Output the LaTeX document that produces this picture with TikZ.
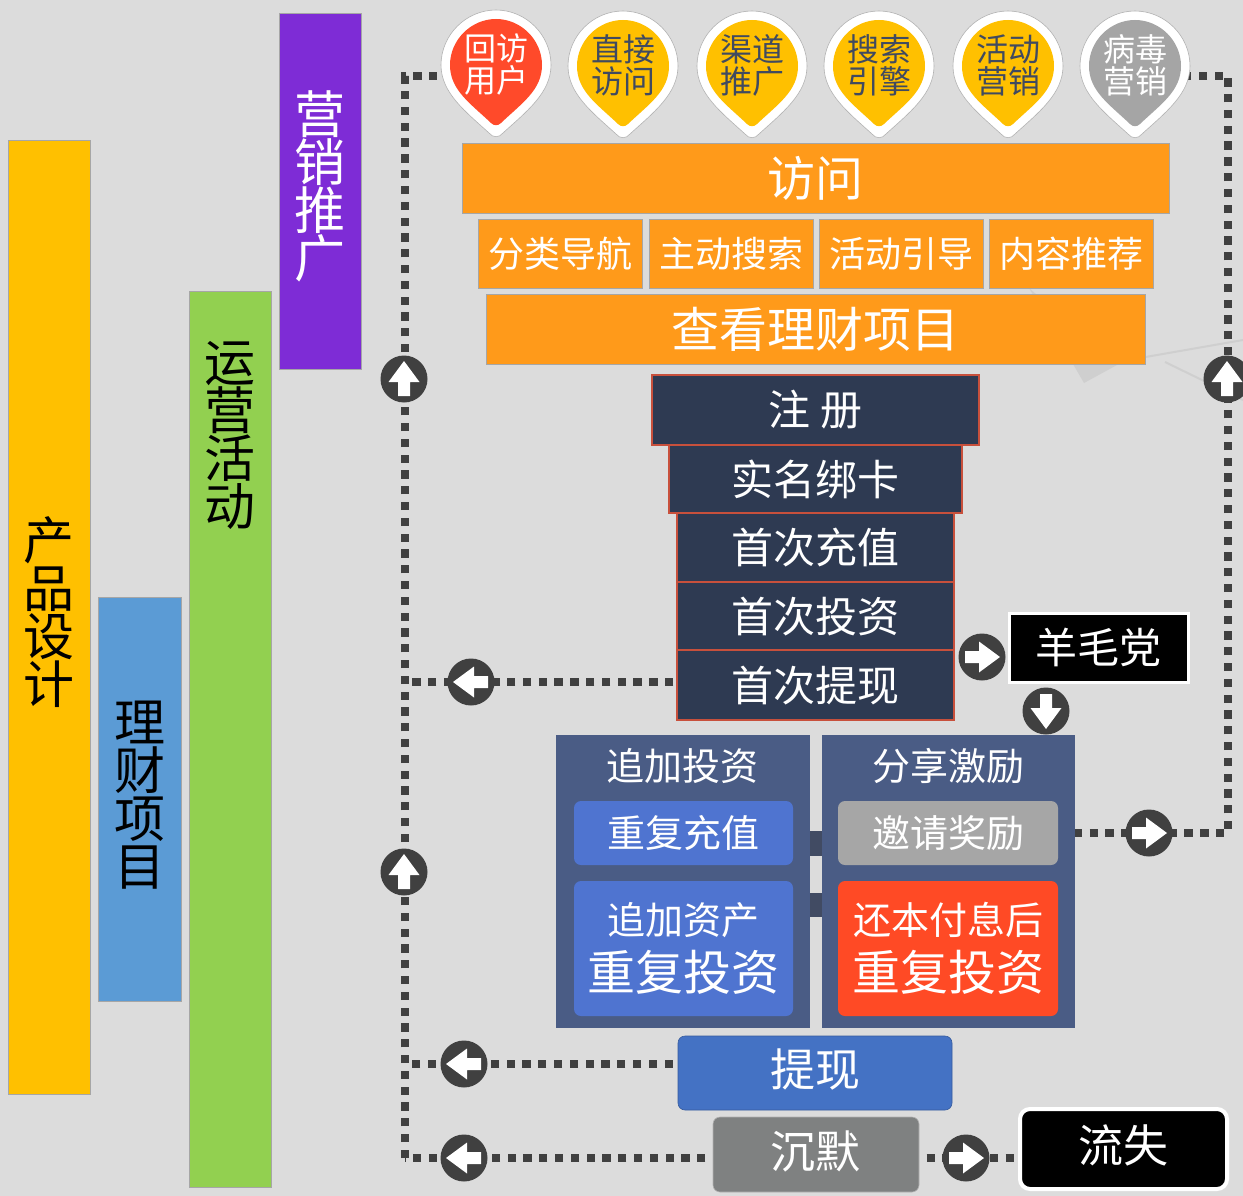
\documentclass[tikz,border=0pt]{standalone}
\usepackage{fontspec}
\setmainfont{Noto Sans CJK SC}
\usetikzlibrary{calc}
\pgfdeclarelayer{back}
\pgfsetlayers{back,main}
\definecolor{bgc}{HTML}{DCDCDC}
\definecolor{faint}{HTML}{CFCFCF}
\definecolor{orangec}{HTML}{FF9A1A}
\definecolor{darkc}{HTML}{2E3A52}
\definecolor{redline}{HTML}{C8503C}
\definecolor{panelc}{HTML}{4A5C85}
\definecolor{linkc}{HTML}{414B63}
\definecolor{bluein}{HTML}{4F74D0}
\definecolor{redin}{HTML}{FF4A25}
\definecolor{grayin}{HTML}{A6A6A6}
\definecolor{pinred}{HTML}{FF4A2A}
\definecolor{pinyel}{HTML}{FFC000}
\definecolor{pingray}{HTML}{A5A5A5}
\definecolor{barblue}{HTML}{5B9BD5}
\definecolor{bargreen}{HTML}{92D050}
\definecolor{barpurple}{HTML}{7E2CD6}
\definecolor{dotc}{HTML}{404040}
\definecolor{pintext}{HTML}{404A60}
\definecolor{cashc}{HTML}{4472C4}
\definecolor{silc}{HTML}{7F8181}
\newcommand\fs[1]{\fontsize{#1}{#1}\selectfont}
\tikzset{
  x=1pt,y=-1pt,
  boxbase/.style={inner sep=0pt,outer sep=0pt,align=center,text=white},
  barbox/.style={boxbase,draw=black!35,line width=.8pt},
  vtext/.style={inner sep=0pt,align=center,font=\fontsize{51}{48}\selectfont},
  orangebox/.style={boxbase,fill=orangec,draw=black!35,line width=.8pt},
  darkbox/.style={boxbase,fill=darkc,draw=redline,line width=1.2pt},
  panelbox/.style={boxbase,fill=panelc},
  innerbox/.style={boxbase,rounded corners=7pt},
  dotline/.style={draw=dotc,line width=7.5pt,dash pattern=on 8.3pt off 7.5pt},
  arrowdisc/.style={circle,fill=dotc,minimum size=47pt,inner sep=0pt,outer sep=0pt},
  pintxt/.style={inner sep=0pt,align=center,font=\fontsize{32}{32}\selectfont},
  paneltitle/.style={inner sep=0pt,text=white,font=\fs{38}},
  boxlabel/.style={inner sep=0pt,text=white},
}
% name x1 y1 x2 y2 style text
\newcommand\bx[7]{\node[#6,minimum width={(#4-#2)*1pt},minimum height={(#5-#3)*1pt}] (#1) at ({(#2+#4)/2},{(#3+#5)/2}) {#7};}
% name cx cy rotation
\newcommand\arrowmark[4]{%
  \node[arrowdisc] (#1) at (#2,#3) {};
  \fill[white,shift={(#2,#3)},rotate=#4] (0,-18) -- (15.5,3) -- (6,3) -- (6,17) -- (-6,17) -- (-6,3) -- (-15.5,3) -- cycle;
}
% name cx cy fill textcolor text
\newcommand\pin[6]{%
  \begin{scope}[shift={(#2,#3)}]
  \fill[white,draw=black!30,line width=.6pt] (-55,0) .. controls (-55,-30) and (-30,-55) .. (0,-55) .. controls (30,-55) and (55,-30) .. (55,0) .. controls (55,28) and (30,47) .. (7,68) .. controls (3,73) and (-3,73) .. (-7,68) .. controls (-30,47) and (-55,28) .. (-55,0) -- cycle;
  \fill[#4] (-46,0) .. controls (-46,-25) and (-25,-46) .. (0,-46) .. controls (25,-46) and (46,-25) .. (46,0) .. controls (46,25) and (26,38) .. (5,58) .. controls (2,61) and (-2,61) .. (-5,58) .. controls (-26,38) and (-46,25) .. (-46,0) -- cycle;
  \end{scope}
  \node[pintxt,text=#5] (#1) at (#2,{#3-1}) {#6};
}
\begin{document}
\begin{tikzpicture}
\useasboundingbox (0,0) rectangle (1243,1196);
\begin{pgfonlayer}{back}
  \fill[bgc] (0,0) rectangle (1243,1196);
  \fill[faint] (1029,288) -- (1117,365) -- (1084,383) -- cycle;
  \draw[faint,line width=2pt] (1117,362) -- (1243,340);
  \draw[faint,line width=2pt] (1165,362) -- (1243,400);
\end{pgfonlayer}

% side bars
\bx{barY}{8}{140}{90}{1094}{barbox,fill=pinyel}{}
\bx{barB}{98}{597}{181}{1001}{barbox,fill=barblue}{}
\bx{barG}{189}{291}{271}{1187}{barbox,fill=bargreen}{}
\bx{barP}{279}{13}{361}{369}{barbox,fill=barpurple}{}
\node[vtext,text=black] (tY) at (49,612) {产\\品\\设\\计};
\node[vtext,text=black] (tB) at (140,795) {理\\财\\项\\目};
\node[vtext,text=black] (tG) at (230,435) {运\\营\\活\\动};
\node[vtext,text=white] (tP) at (320,186) {营\\销\\推\\广};

% pins
\pin{pin1}{496}{65}{pinred}{white}{回访\\用户}
\pin{pin2}{623}{66}{pinyel}{pintext}{直接\\访问}
\pin{pin3}{752}{66}{pinyel}{pintext}{渠道\\推广}
\pin{pin4}{879}{66}{pinyel}{pintext}{搜索\\引擎}
\pin{pin5}{1008}{66}{pinyel}{pintext}{活动\\营销}
\pin{pin6}{1135}{66}{pingray}{white}{病毒\\营销}

% orange funnel
\bx{visit}{462}{143}{1169}{213}{orangebox,font=\fs{48}}{访问}
\bx{o1}{478}{219}{642}{288}{orangebox,font=\fs{36}}{分类导航}
\bx{o2}{649}{219}{813}{288}{orangebox,font=\fs{36}}{主动搜索}
\bx{o3}{819}{219}{983}{288}{orangebox,font=\fs{36}}{活动引导}
\bx{o4}{989}{219}{1153}{288}{orangebox,font=\fs{36}}{内容推荐}
\bx{view}{486}{294}{1145}{364}{orangebox,font=\fs{48}}{查看理财项目}

% dark funnel
\bx{d1}{652}{375}{979}{445}{darkbox,font=\fs{42}}{注 册}
\bx{d2}{669}{445}{962}{513}{darkbox,font=\fs{42}}{实名绑卡}
\bx{d3}{677}{513}{954}{582}{darkbox,font=\fs{42}}{首次充值}
\bx{d4}{677}{582}{954}{650}{darkbox}{}
\bx{d5}{677}{650}{954}{720}{darkbox}{}
\node[boxlabel,font=\fs{42}] (d4t) at (815,617) {首次投资};
\node[boxlabel,font=\fs{42}] (d5t) at (815,686) {首次提现};

% wool party
\bx{wool}{1009}{613}{1188}{682}{boxbase,fill=black,draw=white,line width=3pt,font=\fs{42}}{羊毛党}

% panels
\bx{linkA}{808}{831}{824}{856}{boxbase,fill=linkc}{}
\bx{linkB}{808}{893}{824}{917}{boxbase,fill=linkc}{}
\bx{panL}{556}{735}{810}{1028}{panelbox}{}
\bx{panR}{822}{735}{1075}{1028}{panelbox}{}
\node[paneltitle] (titleL) at (682,766) {追加投资};
\node[paneltitle] (titleR) at (948,766) {分享激励};
\bx{recharge}{574}{801}{793}{865}{innerbox,fill=bluein,font=\fs{38}}{重复充值}
\bx{invite}{838}{801}{1058}{865}{innerbox,fill=grayin,font=\fs{38}}{邀请奖励}
\bx{addasset}{574}{881}{793}{1016}{innerbox,fill=bluein}{{\fontsize{38}{48}\selectfont 追加资产}\\[11pt]{\fontsize{48}{52}\selectfont 重复投资}}
\bx{repay}{838}{881}{1058}{1016}{innerbox,fill=redin}{{\fontsize{38}{48}\selectfont 还本付息后}\\[11pt]{\fontsize{48}{52}\selectfont 重复投资}}

% bottom boxes
\bx{cash}{678}{1036}{952}{1110}{innerbox,fill=cashc,draw=cashc!80!black,line width=.6pt}{}
\bx{silent}{713}{1117}{919}{1192}{innerbox,fill=silc,draw=black!30,line width=.6pt}{}
\bx{lost}{1020}{1109}{1227}{1189}{innerbox,rounded corners=10pt,fill=black,draw=white,line width=4pt}{}
\node[boxlabel,font=\fs{45}] (casht) at (815,1069) {提现};
\node[boxlabel,font=\fs{45}] (silentt) at (815,1151) {沉默};
\node[boxlabel,font=\fs{45}] (lostt) at (1123,1145) {流失};

% arrow discs
\arrowmark{aUp1}{404}{379}{0}
\arrowmark{aUp2}{404}{872}{0}
\arrowmark{aUp3}{1227}{379}{0}
\arrowmark{aLeft1}{471}{682}{90}
\arrowmark{aLeft2}{464}{1064}{90}
\arrowmark{aLeft3}{464}{1158}{90}
\arrowmark{aRight1}{982}{657}{-90}
\arrowmark{aRight2}{1149}{833}{-90}
\arrowmark{aRight3}{966}{1158}{-90}
\arrowmark{aDown}{1046}{711}{180}

% connector way points
\coordinate (cTL) at (405,76);
\coordinate (cBL) at (405,1158);
\coordinate (cTR) at (1228,76);
\coordinate (cBR) at (1228,833);
\coordinate (pin1a) at (496,76);
\coordinate (pin6a) at (1135,76);

\begin{pgfonlayer}{back}
  \draw[dotline] (cBL) -- (cTL) -- (pin1a);
  \draw[dotline] (invite) -- (cBR) -- (cTR) -- (pin6a);
  \draw[dotline] (d5 |- aLeft1) -- (aLeft1 -| cTL);
  \draw[dotline] (cash |- aLeft2) -- (aLeft2 -| cTL);
  \draw[dotline] (silent |- cBL) -- (cBL);
  \draw[dotline] (silent |- aRight3) -- (lost |- aRight3);
\end{pgfonlayer}
\end{tikzpicture}
\end{document}
